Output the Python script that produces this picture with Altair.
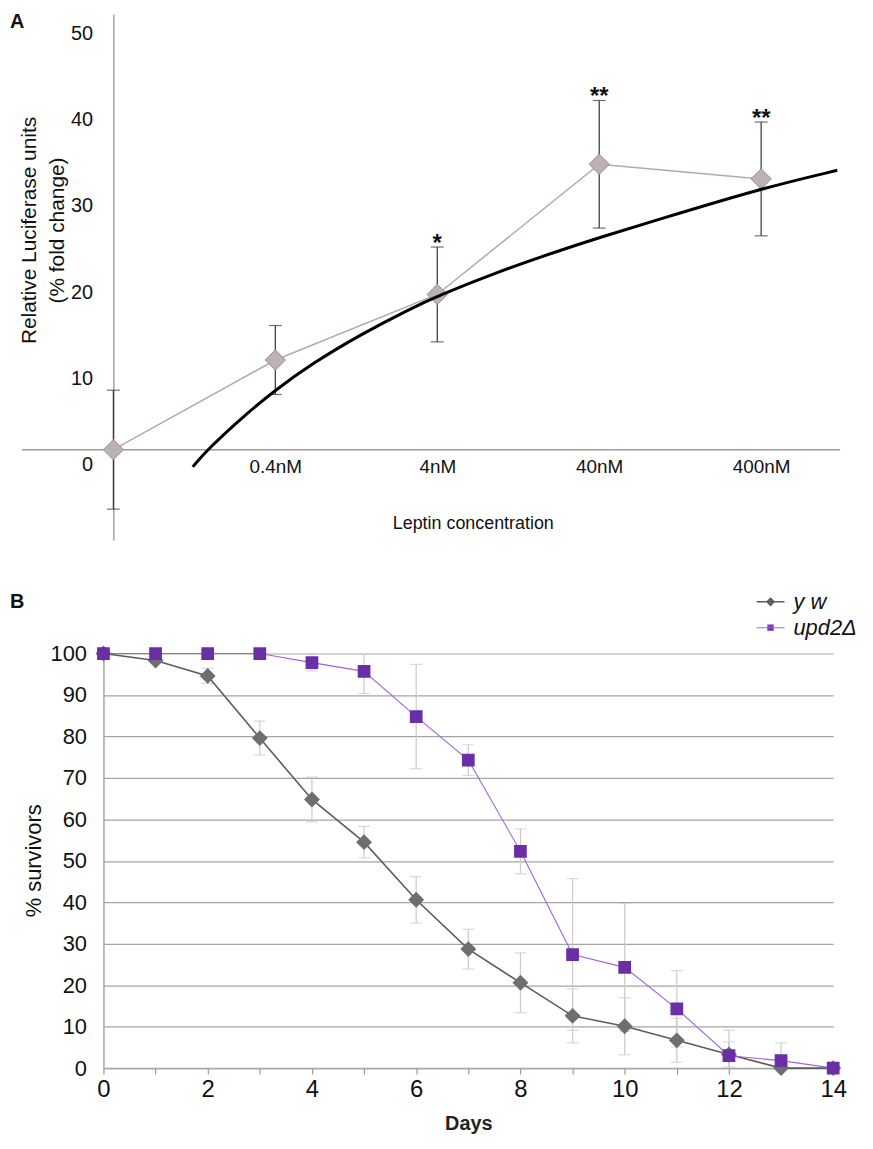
import json
import altair as alt
import pandas as pd

# ---------------- Panel A data ----------------
conc_labels = ["", "0.4nM", "4nM", "40nM", "400nM"]
luc_mean = [0.0, 10.4, 18.0, 33.1, 31.4]
luc_err = [6.9, 4.0, 5.5, 7.4, 6.6]
luc_stars = ["", "", "*", "**", "**"]
# fitted curve (position in category units, value)
fit_pos = [0.49, 0.58, 0.81, 1.00, 1.22, 1.53, 1.84, 2.00, 2.37, 2.74, 3.00, 3.35, 4.00, 4.47]
fit_val = [-2.0, 0.0, 4.0, 6.9, 9.9, 13.4, 16.4, 17.8, 20.6, 23.0, 24.6, 26.6, 30.3, 32.4]

# ---------------- Panel B data ----------------
days = list(range(15))
series_names = ["y w", "upd2Δ"]
yw_mean = [100, 98.3, 94.6, 79.6, 64.8, 54.5, 40.6, 28.7, 20.6, 12.6, 10.1, 6.7, 3.3, 0.0, 0.0]
yw_err = [0, 0, 1.8, 4.1, 5.4, 3.8, 5.6, 4.8, 7.2, 6.5, 6.9, 5.3, 3.0, 0, 0]
upd_mean = [100, 100, 100, 100, 97.8, 95.7, 84.8, 74.3, 52.3, 27.4, 24.3, 14.3, 3.0, 1.8, 0.0]
upd_err = [0, 0, 0, 0, 2.0, 5.3, 12.6, 3.7, 5.4, 18.3, 15.4, 9.2, 6.1, 4.3, 0]

FONT = "Liberation Sans, Arial, sans-serif"

# ================= Panel A =================
dfA = pd.DataFrame({"pos": list(range(len(conc_labels))), "mean": luc_mean,
                    "err": luc_err, "star": luc_stars})
dfA["lo"] = dfA["mean"] - dfA["err"]
dfA["hi"] = dfA["mean"] + dfA["err"]
dfFit = pd.DataFrame({"pos": fit_pos, "val": fit_val})
dfZero = pd.DataFrame({"z": [0]})

PX_A = 8.67
XU_A = 163
A_YMIN, A_YMAX = -10.5, 50.5
A_XMIN, A_XMAX = -0.0613, 4.5
wA = round((A_XMAX - A_XMIN) * XU_A)
hA = round((A_YMAX - A_YMIN) * PX_A)
zero_off = -round(-A_YMIN * PX_A)

xA_scale = alt.Scale(domain=[A_XMIN, A_XMAX], nice=False, zero=False)
yA_scale = alt.Scale(domain=[A_YMIN, A_YMAX], nice=False, zero=False)

xA_axis = alt.Axis(values=[1, 2, 3, 4], labelExpr=f"{json.dumps(conc_labels)}[datum.value]",
                   offset=zero_off, domain=False, ticks=False, grid=False,
                   labelFont=FONT, labelFontSize=19, labelColor="#111",
                   labelBaseline="middle", labelPadding=17, labelOverlap=False,
                   title="Leptin concentration", titleFont=FONT, titleFontSize=18,
                   titleFontWeight="normal", titleColor="#111",
                   titleBaseline="middle", titleY=74)
yA_axis = alt.Axis(values=[0, 10, 20, 30, 40, 50], offset=-10, ticks=False, grid=False,
                   domainColor="#8c8c8c", domainWidth=1.2,
                   labelFont=FONT, labelFontSize=20, labelColor="#111",
                   labelOffset=15, labelPadding=21,
                   title=["Relative Luciferase units", "(%  fold change)"],
                   titleFont=FONT, titleFontSize=21, titleFontWeight="normal",
                   titleColor="#111", titleAngle=270, titleAlign="center",
                   titleBaseline="bottom", titleX=-74, titleY=217, titleLineHeight=28)


def xA(field="pos"):
    return alt.X(f"{field}:Q", scale=xA_scale, axis=xA_axis)


def yA(field):
    return alt.Y(f"{field}:Q", scale=yA_scale, axis=yA_axis)


zero_line = alt.Chart(dfZero).mark_rule(color="#9c9c9c", strokeWidth=1.5).encode(
    y=yA("z"), x=alt.value(-82), x2=alt.value(wA - 2))
conn = alt.Chart(dfA).mark_line(color="#b3a8aa", strokeWidth=1.5).encode(x=xA(), y=yA("mean"))
err_rule = alt.Chart(dfA).mark_rule(color="#333333", strokeWidth=1.2).encode(
    x=xA(), y=yA("lo"), y2="hi:Q")
cap_hi = alt.Chart(dfA).mark_tick(orient="horizontal", size=13, thickness=1.2, color="#333333").encode(
    x=xA(), y=yA("hi"))
cap_lo = alt.Chart(dfA).mark_tick(orient="horizontal", size=13, thickness=1.2, color="#333333").encode(
    x=xA(), y=yA("lo"))
pts = alt.Chart(dfA).mark_point(shape="diamond", filled=True, size=420, fill="#bcb2b4",
                                stroke="#9b8f91", strokeWidth=1, opacity=1).encode(
    x=xA(), y=yA("mean"))
fit = alt.Chart(dfFit).mark_line(color="black", strokeWidth=3, interpolate="basis").encode(
    x=xA(), y=yA("val"))
stars = alt.Chart(dfA).mark_text(font=FONT, fontSize=24, fontWeight="bold", baseline="alphabetic",
                                 dy=4, color="#111").encode(x=xA(), y=yA("hi"), text="star:N")
labA = alt.Chart(pd.DataFrame({"t": ["A"]})).mark_text(
    font=FONT, fontSize=20, fontWeight="bold", align="left", baseline="middle", color="#111").encode(
    text="t:N", x=alt.value(-94), y=alt.value(8))

panelA = alt.layer(zero_line, conn, err_rule, cap_hi, cap_lo, pts, fit, stars, labA).properties(
    width=wA, height=hA)

# ================= Panel B =================
rows = []
for name, m, e in [(series_names[0], yw_mean, yw_err), (series_names[1], upd_mean, upd_err)]:
    for d, v, s in zip(days, m, e):
        rows.append({"day": d, "series": name, "mean": v, "err": s, "lo": v - s, "hi": v + s})
dfB = pd.DataFrame(rows)
dfBerr = dfB[dfB["err"] > 0]

wB = 734
hB = 417

xB_axis = alt.Axis(values=days, labelExpr="datum.value % 2 === 0 ? datum.label : ''",
                   grid=False, ticks=True, tickSize=6, tickColor="#999999", tickWidth=1.2,
                   domainColor="#a5a5a5", domainWidth=1.5,
                   labelFont=FONT, labelFontSize=24, labelColor="#111", labelPadding=4,
                   labelFlush=False, labelOverlap=False,
                   title="Days", titleFont=FONT, titleFontSize=20, titleFontWeight="bold",
                   titleColor="#222", titlePadding=12)
yB_axis = alt.Axis(values=list(range(0, 101, 10)), grid=True, gridColor="#a5a5a5", gridWidth=1.2,
                   ticks=False, domainColor="#a5a5a5", domainWidth=1.5,
                   labelFont=FONT, labelFontSize=22, labelColor="#111", labelPadding=17,
                   title="% survivors", titleFont=FONT, titleFontSize=22, titleFontWeight="normal",
                   titleColor="#111", titleAngle=270, titleAlign="center", titleBaseline="bottom",
                   titleX=-58, titleY=208)
xB_scale = alt.Scale(domain=[0, 14], nice=False)
yB_scale = alt.Scale(domain=[0, 100], nice=False)


def xB():
    return alt.X("day:Q", scale=xB_scale, axis=xB_axis)


def yB(field):
    return alt.Y(f"{field}:Q", scale=yB_scale, axis=yB_axis)


diamond_path = "M-4,0L4,0M-1,0L0,-1L1,0L0,1Z"
square_path = "M-4,0L4,0M-0.8,-0.8L0.8,-0.8L0.8,0.8L-0.8,0.8Z"

leg = alt.Legend(orient="none", legendX=660, legendY=-63, title=None, direction="vertical",
                 labelFont=FONT, labelFontStyle="italic", labelFontSize=22, labelColor="#111",
                 symbolSize=49, symbolStrokeWidth=1.5, labelOffset=12, rowPadding=4, padding=0)
stroke_scale = alt.Scale(domain=series_names, range=["#5c5c5c", "#a064d8"])
fill_scale = alt.Scale(domain=series_names, range=["#6e6e6e", "#6a2ea6"])
shape_scale = alt.Scale(domain=series_names, range=[diamond_path, square_path])
width_scale = alt.Scale(domain=series_names, range=[1.6, 1.1])

errB = alt.Chart(dfBerr).mark_rule(color="#cbcbcb", strokeWidth=1.2, clip=True).encode(
    x=xB(), y=yB("lo"), y2="hi:Q")
capBh = alt.Chart(dfBerr).mark_tick(orient="horizontal", size=12, thickness=1.2, color="#cbcbcb",
                                    clip=True).encode(x=xB(), y=yB("hi"))
capBl = alt.Chart(dfBerr).mark_tick(orient="horizontal", size=12, thickness=1.2, color="#cbcbcb",
                                    clip=True).encode(x=xB(), y=yB("lo"))
linesB = alt.Chart(dfB).mark_line().encode(
    x=xB(), y=yB("mean"), stroke=alt.Stroke("series:N", scale=stroke_scale, legend=leg),
    strokeWidth=alt.StrokeWidth("series:N", scale=width_scale, legend=None))
ptsB = alt.Chart(dfB).mark_point(filled=True, size=256, strokeWidth=0, opacity=1).encode(
    x=xB(), y=yB("mean"),
    fill=alt.Fill("series:N", scale=fill_scale, legend=leg),
    stroke=alt.Stroke("series:N", scale=stroke_scale, legend=leg),
    shape=alt.Shape("series:N", scale=shape_scale, legend=leg))
labB = alt.Chart(pd.DataFrame({"t": ["B"]})).mark_text(
    font=FONT, fontSize=20, fontWeight="bold", align="left", baseline="middle", color="#111").encode(
    text="t:N", x=alt.value(-94), y=alt.value(-52))

panelB = alt.layer(errB, capBh, capBl, linesB, ptsB, labB).properties(width=wB, height=hB)

chart = alt.vconcat(panelA, panelB, spacing=51).resolve_scale(
    fill="independent", stroke="independent", shape="independent", strokeWidth="independent"
).resolve_legend(
    fill="independent", stroke="independent", shape="independent"
).properties(
    padding={"left": 2, "top": 1, "right": 0, "bottom": 0}
).configure_view(stroke=None)

chart.save("out.html", embed_options={"renderer": "svg", "actions": False})
